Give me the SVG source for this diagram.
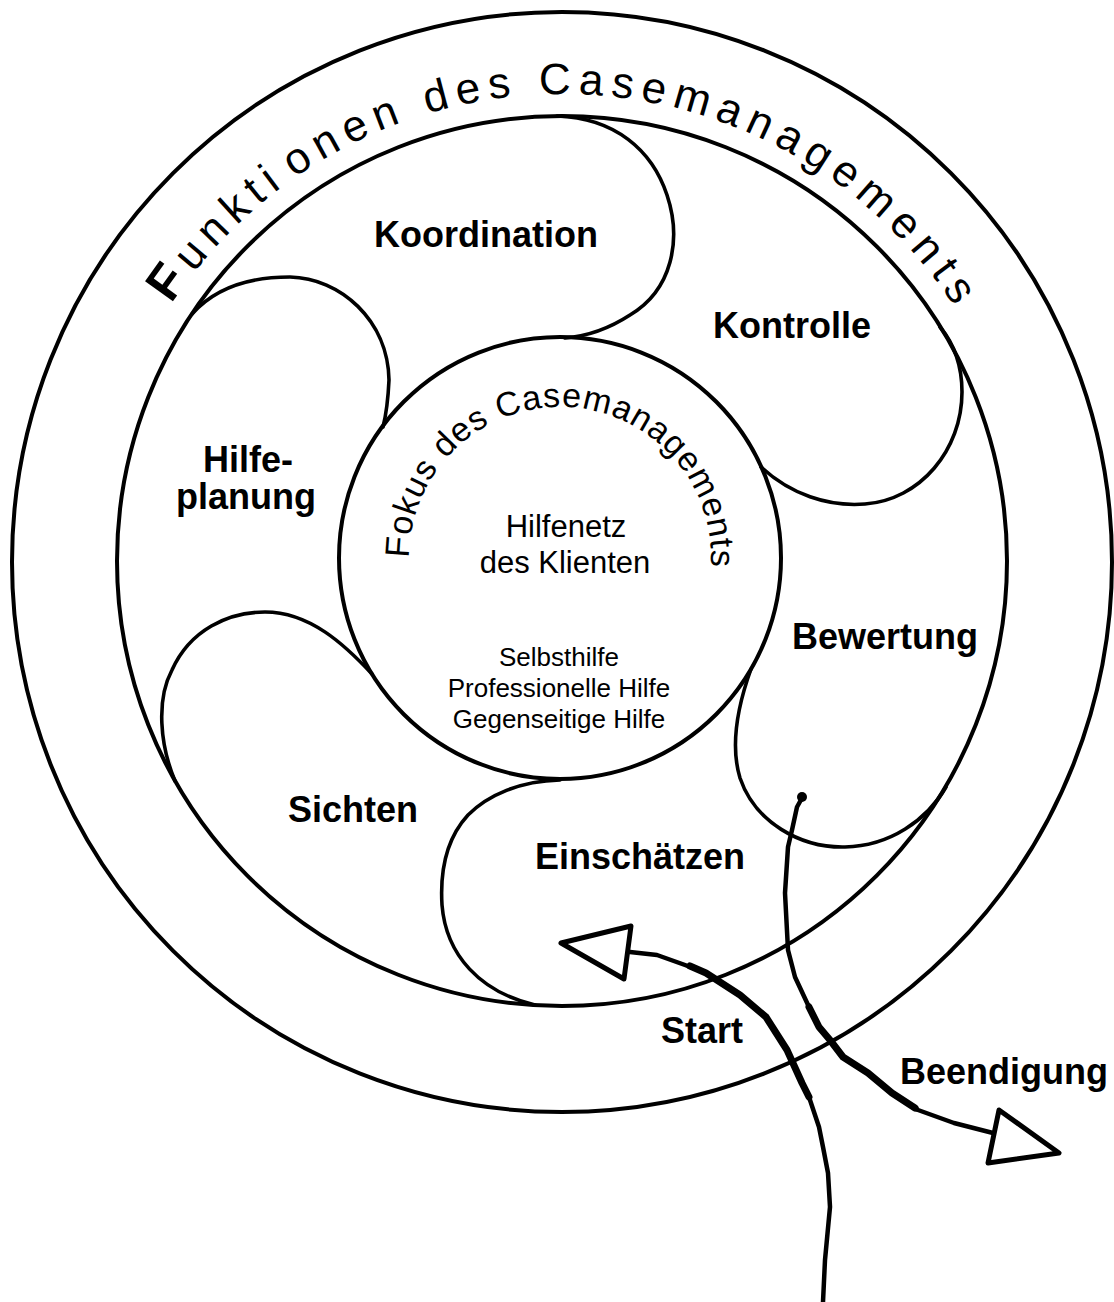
<svg xmlns="http://www.w3.org/2000/svg" width="1114" height="1302" viewBox="0 0 1114 1302">
<style>
.ring{fill:none;stroke:#000;stroke-width:4}
.lobe{fill:none;stroke:#000;stroke-width:3.6;stroke-linecap:round;stroke-linejoin:round}
.lbl{font-family:"Liberation Sans",Arial,sans-serif;font-weight:bold;font-size:36px;text-anchor:middle;fill:#000}
.txt{font-family:"Liberation Sans",Arial,sans-serif;text-anchor:middle;fill:#000}
.arc{font-family:"Liberation Sans",Arial,sans-serif;fill:#000}
.flow{fill:none;stroke:#000;stroke-width:4.5;stroke-linecap:round;stroke-linejoin:round}
.flowthick{fill:none;stroke:#000;stroke-width:7;stroke-linecap:round;stroke-linejoin:round}
.head{fill:#fff;stroke:#000;stroke-width:5;stroke-linejoin:round}
</style>
<defs>
<path id="outerArc" d="M 94,562 A 468,468 0 0 1 1030,562"/>
<path id="innerArc" d="M 409,558 A 151,151 0 1 1 708.7,584.2"/>
</defs>
<rect width="1114" height="1302" fill="#fff"/>

<g id="outer-ring">
<circle class="ring" cx="562" cy="562" r="550"/>
<text class="arc" font-size="44"><textPath href="#outerArc" startOffset="273" letter-spacing="7.6"><tspan font-weight="bold" font-size="50">F</tspan>unkti<tspan dx="8">onen des Casemanagements</tspan></textPath></text>
</g>

<g id="middle-ring">
<circle class="ring" cx="562" cy="561" r="445"/>
</g>

<g id="lobes">
<path class="lobe" d="M 557,116 C 615,118 652,150 667,195 C 682,240 672,290 630,315 C 610,328 590,336 565,338"/>
<path class="lobe" d="M 192,314 C 215,288 250,277 290,277 C 340,278 388,320 389,380 C 388,402 386,415 383,427"/>
<path class="lobe" d="M 175,781 C 160,745 156,700 172,670 C 190,630 228,612 265,612 C 310,612 345,645 372,674"/>
<path class="lobe" d="M 560,780 C 520,781 488,795 468,815 C 445,840 440,872 442,905 C 446,955 480,992 535,1005"/>
<path class="lobe" d="M 751,669 C 738,705 730,745 740,778 C 755,822 800,848 845,847 C 890,846 927,820 946,787"/>
<path class="lobe" d="M 761,467 C 790,494 828,507 865,504 C 920,500 962,450 962,392 C 962,365 955,345 940,327"/>
</g>

<g id="node-koordination"><text class="lbl" x="486" y="247">Koordination</text></g>
<g id="node-kontrolle"><text class="lbl" x="792" y="338">Kontrolle</text></g>
<g id="node-hilfeplanung"><text class="lbl" x="248" y="472">Hilfe-</text><text class="lbl" x="246" y="509">planung</text></g>
<g id="node-bewertung"><text class="lbl" x="885" y="649">Bewertung</text></g>
<g id="node-sichten"><text class="lbl" x="353" y="822">Sichten</text></g>
<g id="node-einschaetzen"><text class="lbl" x="640" y="869">Einschätzen</text></g>

<g id="core">
<circle class="ring" cx="560" cy="558" r="221"/>
<text class="arc" font-size="34"><textPath href="#innerArc" startOffset="0" letter-spacing="0.9">Fokus des Casemanagements</textPath></text>
<text class="txt" font-size="31" x="566" y="537">Hilfenetz</text>
<text class="txt" font-size="31" x="565" y="573">des Klienten</text>
<text class="txt" font-size="26" x="559" y="666">Selbsthilfe</text>
<text class="txt" font-size="26" x="559" y="697">Professionelle Hilfe</text>
<text class="txt" font-size="26" x="559" y="728">Gegenseitige Hilfe</text>
</g>

<g id="node-start"><text class="lbl" x="702" y="1043">Start</text></g>
<g id="node-beendigung"><text class="lbl" x="1004" y="1084">Beendigung</text></g>

<g id="connectors">
<path class="flow" d="M 823,1302 L 825,1260 L 830,1207 L 828,1173 L 823,1147 L 819,1127 L 809,1097 L 802,1083 L 787,1050 L 766,1017 L 740,995 L 706,973 L 685,965 L 657,955 L 630,952"/>
<path class="flowthick" d="M 809,1097 L 802,1083 L 787,1050 L 766,1017 L 740,995 L 706,973 L 690,966"/>
<polygon class="head" points="561,943 631,926 624,979"/>
<circle cx="802" cy="797" r="5" fill="#000"/>
<path class="flow" d="M 802,798 L 797,807 L 792,830 L 788,847 L 785,893 L 788,950 L 795,977 L 809,1007 L 819,1027 L 830,1040 L 843,1057 L 868,1073 L 892,1093 L 918,1110 L 954,1123 L 993,1133"/>
<path class="flowthick" d="M 809,1007 L 819,1027 L 830,1040 L 843,1057 L 868,1073 L 892,1093 L 915,1108"/>
<polygon class="head" points="999,1110 1059,1153 988,1163"/>
</g>
</svg>
